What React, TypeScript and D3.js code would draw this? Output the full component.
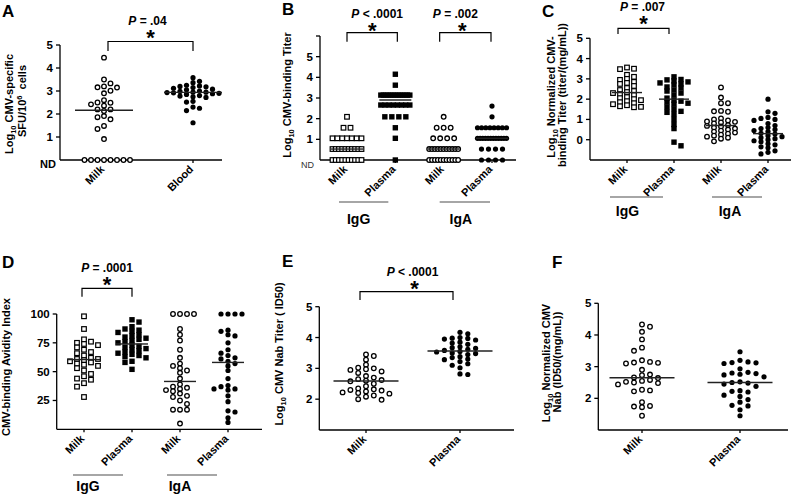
import React from 'react';
import * as d3 from 'd3';

const FONT = "'Liberation Sans', Arial, Helvetica, sans-serif";

// ---------------- Panel A ----------------
const aMilk = [4.45, 3.5, 3.33, 3.2, 3.16, 3.15, 3.01, 2.9, 2.6, 2.5, 2.49, 2.42, 2.36, 2.2, 2.2, 2.13, 1.91, 1.86, 1.77, 1.48, 1.35, 0.91, 0, 0, 0, 0, 0, 0, 0, 0];
const aBlood = [3.58, 3.42, 3.36, 3.25, 3.22, 3.2, 3.18, 3.15, 3.12, 3.08, 3.05, 3.0, 2.98, 2.95, 2.95, 2.93, 2.92, 2.9, 2.88, 2.85, 2.8, 2.78, 2.75, 2.72, 2.55, 2.52, 2.3, 2.25, 2.15, 1.62];
const aTicks = [1, 2, 3, 4, 5];

// ---------------- Panel B ----------------
const bMilkIgG = [2.09, 1.56, 1.56, 1.05, 1.05, 1.05, 1.05, 1.05, 1.05, 1.05, 0.53, 0.53, 0.53, 0.53, 0.53, 0.53, 0.53, 0.53, 0.53, 0.53, 0, 0, 0, 0, 0, 0, 0, 0, 0, 0];
const bPlasmaIgG = [4.15, 3.62, 3.14, 3.14, 3.14, 3.14, 3.14, 3.14, 3.14, 3.14, 3.14, 3.14, 3.14, 3.14, 3.14, 2.66, 2.66, 2.66, 2.66, 2.66, 2.66, 2.66, 2.66, 2.09, 2.09, 2.09, 2.09, 1.56, 1.05, 0];
const bMilkIgA = [2.09, 1.56, 1.56, 1.56, 1.05, 1.05, 1.05, 1.05, 0.53, 0.53, 0.53, 0.53, 0.53, 0.53, 0.53, 0.53, 0.53, 0.53, 0.53, 0, 0, 0, 0, 0, 0, 0, 0, 0, 0, 0];
const bPlasmaIgA = [2.61, 2.09, 1.56, 1.56, 1.56, 1.56, 1.56, 1.56, 1.56, 1.56, 1.05, 1.05, 1.05, 1.05, 1.05, 1.05, 1.05, 1.05, 1.05, 1.05, 1.05, 1.05, 0.53, 0.53, 0.53, 0.53, 0, 0, 0, 0];
const bTicks = [1, 2, 3, 4, 5];
const bMinorTicks = [6];

// ---------------- Panel C ----------------
const cMilkIgG = [3.56, 3.5, 3.48, 3.2, 3.1, 3.0, 2.95, 2.85, 2.8, 2.75, 2.65, 2.55, 2.45, 2.4, 2.35, 2.3, 2.25, 2.2, 2.1, 2.05, 2.0, 1.95, 1.9, 1.85, 1.8, 1.75, 1.7, 1.65, 1.62, 1.6];
const cPlasmaIgG = [3.1, 2.97, 2.95, 2.9, 2.85, 2.8, 2.75, 2.7, 2.6, 2.55, 2.45, 2.4, 2.3, 2.2, 2.05, 1.95, 1.9, 1.85, 1.8, 1.75, 1.6, 1.5, 1.4, 1.35, 1.25, 1.0, 0.75, 0.55, -0.12, -0.3];
const cMilkIgA = [2.58, 2.08, 1.8, 1.8, 1.42, 1.4, 1.38, 1.05, 1.0, 0.95, 0.9, 0.88, 0.85, 0.8, 0.72, 0.68, 0.65, 0.6, 0.55, 0.5, 0.45, 0.4, 0.35, 0.3, 0.25, 0.2, 0.15, 0.1, 0.05, -0.08];
const cPlasmaIgA = [2.0, 1.38, 1.3, 1.1, 1.05, 1.0, 0.95, 0.8, 0.7, 0.6, 0.55, 0.5, 0.45, 0.4, 0.32, 0.28, 0.2, 0.15, 0.1, 0.05, 0.0, -0.05, -0.1, -0.2, -0.25, -0.35, -0.4, -0.55, -0.62, -0.7];
const cTicks = [0, 1, 2, 3, 4, 5];

// ---------------- Panel D ----------------
const dMilkIgG = [98, 87, 78, 76, 75, 74, 73, 71, 69, 67, 66, 64, 62, 61, 61, 60, 59, 58, 57, 56, 55, 53, 51, 48, 46, 44, 43, 40, 37, 28];
const dPlasmaIgG = [95, 93, 89, 87, 86, 85, 84, 82, 81, 80, 79, 78, 77, 76, 75, 73, 72, 71, 70, 69, 68, 67, 66, 65, 64, 63, 62, 59, 58, 52];
const dMilkIgA = [100, 100, 100, 100, 87, 82, 77, 69, 62, 57, 55, 53, 51, 49, 44, 39, 37, 36, 35, 34, 33, 31, 29, 28, 25, 22, 17, 17, 17, 5];
const dPlasmaIgA = [100, 100, 100, 100, 86, 85, 82, 81, 75, 69, 66, 64, 62, 61, 59, 57, 55, 51, 44, 38, 37, 35, 35, 34, 29, 24, 16, 15, 10, 6];
const dTicks = [25, 50, 75, 100];

// ---------------- Panel E ----------------
const eMilk = [3.45, 3.4, 3.28, 3.12, 3.02, 3.0, 2.97, 2.95, 2.9, 2.85, 2.75, 2.7, 2.65, 2.62, 2.6, 2.58, 2.5, 2.42, 2.35, 2.32, 2.3, 2.28, 2.25, 2.22, 2.2, 2.18, 2.12, 2.08, 2.0, 1.98];
const ePlasma = [4.17, 4.12, 4.0, 3.98, 3.97, 3.95, 3.92, 3.85, 3.82, 3.78, 3.7, 3.67, 3.65, 3.62, 3.58, 3.55, 3.53, 3.5, 3.48, 3.45, 3.38, 3.35, 3.3, 3.28, 3.22, 3.15, 3.1, 3.02, 2.82, 2.8];
const eTicks = [2, 3, 4, 5];

// ---------------- Panel F ----------------
const fMilk = [4.33, 4.26, 4.1, 3.86, 3.6, 3.5, 3.2, 3.15, 3.13, 3.12, 3.1, 2.9, 2.75, 2.73, 2.66, 2.64, 2.58, 2.55, 2.52, 2.5, 2.48, 2.44, 2.27, 2.25, 2.22, 1.88, 1.76, 1.74, 1.72, 1.45];
const fPlasma = [3.47, 3.2, 3.15, 3.13, 3.12, 3.1, 2.93, 2.82, 2.8, 2.78, 2.76, 2.74, 2.68, 2.52, 2.5, 2.48, 2.45, 2.38, 2.24, 2.22, 2.2, 2.1, 2.06, 1.96, 1.88, 1.78, 1.76, 1.64, 1.45];
const fTicks = [2, 3, 4, 5];

type Shape = 'circle' | 'square';
interface Series { key: string; label: string; values: number[]; shape: Shape; filled: boolean }

function swarm(values: number[], y: (v: number) => number, step: number, minDY: number): number[] {
  const idx = values.map((_, i) => i).sort((a, b) => values[b] - values[a]);
  const placed: { s: number; py: number }[] = [];
  const out: number[] = new Array(values.length).fill(0);
  const free = (s: number, py: number) => !placed.some(p => p.s === s && Math.abs(p.py - py) < minDY);
  idx.forEach(i => {
    const py = y(values[i]);
    for (let k = 0; k < 40; k++) {
      if (k === 0) {
        if (free(0, py)) { placed.push({ s: 0, py }); out[i] = 0; return; }
        continue;
      }
      const pf = free(k, py), nf = free(-k, py);
      if (pf || nf) {
        let s = k;
        if (pf && nf) {
          const pos = placed.filter(p => p.s > 0).length;
          const neg = placed.filter(p => p.s < 0).length;
          s = pos > neg ? -k : k;
        } else if (nf) s = -k;
        placed.push({ s, py });
        out[i] = s * step;
        return;
      }
    }
  });
  return out;
}

function rows(values: number[], step: number, maxW: number): number[] {
  const out: number[] = new Array(values.length).fill(0);
  const groups = d3.group(values.map((v, i) => ({ v, i })), d => d.v);
  groups.forEach(arr => {
    const n = arr.length;
    const sp = n > 1 ? Math.min(step, maxW / (n - 1)) : 0;
    arr.forEach((d, j) => { out[d.i] = (j - (n - 1) / 2) * sp; });
  });
  return out;
}

interface Bracket { from: string; to: string; dx1: number; dx2: number; top: number; bottom: number; op: string; textY: number; starY: number; textDx: number; starDx: number }
interface Group { label: string; from: string; to: string; dx1: number; dx2: number; lineY: number; textY: number; textDx: number }
interface YLab { x: number; y: number; content: React.ReactNode }

interface Cfg {
  letter: string; letterX: number; letterY: number;
  yDomain: [number, number]; yRange: [number, number];
  axisX: number; axisEnd: number;
  ticks: number[]; minorTicks?: number[];
  nd?: { x: number; y: number; size: number; weight: string; fill: string };
  catRange: [number, number];
  series: Series[];
  layout: 'swarm' | 'rows'; step: number; minDY: number; maxW?: number;
  medHalf: number;
  brackets: Bracket[];
  groups: Group[];
  yLabels: YLab[];
}

const Sub = ({ t }: { t: string }) => <tspan fontSize={7.5} dy={3}>{t}</tspan>;

function Marker({ cx, cy, shape, filled }: { cx: number; cy: number; shape: Shape; filled: boolean }) {
  if (shape === 'circle') {
    return filled
      ? <circle cx={cx} cy={cy} r={2.6} fill="#000" />
      : <circle cx={cx} cy={cy} r={2.3} fill="#fff" stroke="#000" strokeWidth={1.3} />;
  }
  const s = filled ? 5.4 : 4.6;
  return <rect x={cx - s / 2} y={cy - s / 2} width={s} height={s}
    fill={filled ? '#000' : '#fff'} stroke={filled ? 'none' : '#000'} strokeWidth={filled ? 0 : 1.2} />;
}

function Panel({ cfg }: { cfg: Cfg }) {
  const y = d3.scaleLinear().domain(cfg.yDomain).range(cfg.yRange);
  const x = d3.scalePoint<string>().domain(cfg.series.map(s => s.key)).range(cfg.catRange);
  const base = cfg.yRange[0];
  const top = cfg.yRange[1];
  return (
    <g>
      <text x={cfg.letterX} y={cfg.letterY} fontSize={17} fontWeight="bold">{cfg.letter}</text>
      {cfg.yLabels.map((l, i) => (
        <text key={i} transform={`translate(${l.x},${l.y}) rotate(-90)`} textAnchor="middle" fontSize={11} fontWeight="bold">{l.content}</text>
      ))}
      <line x1={cfg.axisX} x2={cfg.axisX} y1={base} y2={top} stroke="#000" strokeWidth={1.3} />
      <line x1={cfg.axisX} x2={cfg.axisEnd} y1={base} y2={base} stroke="#000" strokeWidth={1.3} />
      {cfg.ticks.map(t => (
        <g key={t}>
          <line x1={cfg.axisX - 4} x2={cfg.axisX} y1={y(t)} y2={y(t)} stroke="#000" strokeWidth={1.3} />
          <text x={cfg.axisX - 7} y={y(t) + 4} textAnchor="end" fontSize={11.5} fontWeight="bold">{t}</text>
        </g>
      ))}
      {(cfg.minorTicks || []).map(t => (
        <line key={'m' + t} x1={cfg.axisX - 4} x2={cfg.axisX} y1={y(t)} y2={y(t)} stroke="#000" strokeWidth={1.3} />
      ))}
      {cfg.nd && (
        <text x={cfg.nd.x} y={cfg.nd.y} textAnchor="end" fontSize={cfg.nd.size} fontWeight={cfg.nd.weight} fill={cfg.nd.fill}>ND</text>
      )}
      {cfg.series.map(s => (
        <g key={s.key}>
          <line x1={x(s.key)!} x2={x(s.key)!} y1={base} y2={base + 3} stroke="#000" strokeWidth={1.3} />
          <text transform={`translate(${x(s.key)! + 1},${base + 10}) rotate(-45)`} textAnchor="end" fontSize={11} fontWeight="bold">{s.label}</text>
        </g>
      ))}
      {cfg.series.map(s => {
        const offs = cfg.layout === 'rows' ? rows(s.values, cfg.step, cfg.maxW || 28) : swarm(s.values, y, cfg.step, cfg.minDY);
        const med = d3.median(s.values)!;
        const cx = x(s.key)!;
        return (
          <g key={'p' + s.key}>
            {s.values.map((v, i) => (
              <Marker key={i} cx={cx + offs[i]} cy={y(v)} shape={s.shape} filled={s.filled} />
            ))}
            <line x1={cx - cfg.medHalf} x2={cx + cfg.medHalf} y1={y(med)} y2={y(med)} stroke="#222" strokeWidth={1.4} />
          </g>
        );
      })}
      {cfg.brackets.map((b, i) => {
        const x1 = x(b.from)! + b.dx1, x2 = x(b.to)! + b.dx2;
        const mid = (x1 + x2) / 2;
        return (
          <g key={'b' + i}>
            <path d={`M${x1},${b.bottom}V${b.top}H${x2}V${b.bottom}`} fill="none" stroke="#000" strokeWidth={1.2} />
            <text x={mid + b.textDx} y={b.textY} textAnchor="middle" fontSize={12} fontWeight="bold">
              <tspan fontStyle="italic">P</tspan>{b.op}
            </text>
            <text x={mid + b.starDx} y={b.starY + 12.5} textAnchor="middle" fontSize={22} fontWeight="bold">*</text>
          </g>
        );
      })}
      {cfg.groups.map((g, i) => {
        const x1 = x(g.from)! + g.dx1, x2 = x(g.to)! + g.dx2;
        return (
          <g key={'g' + i}>
            <line x1={x1} x2={x2} y1={g.lineY} y2={g.lineY} stroke="#888" strokeWidth={1.5} />
            <text x={(x1 + x2) / 2 + g.textDx} y={g.textY} textAnchor="middle" fontSize={14} fontWeight="bold">{g.label}</text>
          </g>
        );
      })}
    </g>
  );
}

const cfgA: Cfg = {
  letter: 'A', letterX: 2, letterY: 17,
  yDomain: [0, 5], yRange: [160, 45], axisX: 60, axisEnd: 222,
  ticks: aTicks,
  nd: { x: 56, y: 168, size: 11, weight: 'bold', fill: '#000' },
  catRange: [104, 193],
  series: [
    { key: 'Milk', label: 'Milk', values: aMilk, shape: 'circle', filled: false },
    { key: 'Blood', label: 'Blood', values: aBlood, shape: 'circle', filled: true },
  ],
  layout: 'swarm', step: 6.5, minDY: 4.4, medHalf: 29,
  brackets: [{ from: 'Milk', to: 'Blood', dx1: 4, dx2: 0, top: 41.5, bottom: 51, op: ' = .04', textY: 25, starY: 32, textDx: -3, starDx: 0 }],
  groups: [],
  yLabels: [
    { x: 12.5, y: 104, content: <>Log<Sub t="10" /><tspan dy={-3}> CMV-specific</tspan></> },
    { x: 26, y: 101, content: <>SFU/10<tspan fontSize={7.5} dy={-4}>6</tspan><tspan dy={4}>{'\u00a0 cells'}</tspan></> },
  ],
};

const cfgB: Cfg = {
  letter: 'B', letterX: 282, letterY: 15,
  yDomain: [0, 6], yRange: [160, 36], axisX: 320, axisEnd: 516,
  ticks: bTicks, minorTicks: bMinorTicks,
  nd: { x: 314, y: 168, size: 9, weight: 'normal', fill: '#333' },
  catRange: [347, 492],
  series: [
    { key: 'Milk IgG', label: 'Milk', values: bMilkIgG, shape: 'square', filled: false },
    { key: 'Plasma IgG', label: 'Plasma', values: bPlasmaIgG, shape: 'square', filled: true },
    { key: 'Milk IgA', label: 'Milk', values: bMilkIgA, shape: 'circle', filled: false },
    { key: 'Plasma IgA', label: 'Plasma', values: bPlasmaIgA, shape: 'circle', filled: true },
  ],
  layout: 'rows', step: 7, minDY: 5.6, maxW: 29, medHalf: 16,
  brackets: [
    { from: 'Milk IgG', to: 'Plasma IgG', dx1: 0, dx2: 2, top: 32.7, bottom: 41.7, op: ' < .0001', textY: 18, starY: 25, textDx: 5, starDx: 0 },
    { from: 'Milk IgA', to: 'Plasma IgA', dx1: -4, dx2: -1, top: 32.7, bottom: 41.7, op: ' = .002', textY: 18, starY: 25, textDx: -10, starDx: -3 },
  ],
  groups: [
    { label: 'IgG', from: 'Milk IgG', to: 'Plasma IgG', dx1: -8, dx2: -7, lineY: 202, textY: 224, textDx: -5 },
    { label: 'IgA', from: 'Milk IgA', to: 'Plasma IgA', dx1: -4, dx2: -2, lineY: 202, textY: 224, textDx: -4 },
  ],
  yLabels: [
    { x: 291, y: 95, content: <>Log<Sub t="10" /><tspan dy={-3}> CMV-binding Titer</tspan></> },
  ],
};

const cfgC: Cfg = {
  letter: 'C', letterX: 542, letterY: 17,
  yDomain: [-1, 5], yRange: [160, 38.3], axisX: 590, axisEnd: 791,
  ticks: cTicks,
  catRange: [627, 768],
  series: [
    { key: 'Milk IgG', label: 'Milk', values: cMilkIgG, shape: 'square', filled: false },
    { key: 'Plasma IgG', label: 'Plasma', values: cPlasmaIgG, shape: 'square', filled: true },
    { key: 'Milk IgA', label: 'Milk', values: cMilkIgA, shape: 'circle', filled: false },
    { key: 'Plasma IgA', label: 'Plasma', values: cPlasmaIgA, shape: 'circle', filled: true },
  ],
  layout: 'swarm', step: 7, minDY: 4.0, medHalf: 15,
  brackets: [{ from: 'Milk IgG', to: 'Plasma IgG', dx1: -9, dx2: -5, top: 28.3, bottom: 34, op: ' = .007', textY: 11, starY: 18.5, textDx: -1, starDx: 0 }],
  groups: [
    { label: 'IgG', from: 'Milk IgG', to: 'Plasma IgG', dx1: -17, dx2: -11, lineY: 197, textY: 216, textDx: -9 },
    { label: 'IgA', from: 'Milk IgA', to: 'Plasma IgA', dx1: -9, dx2: -6, lineY: 197, textY: 216, textDx: -7 },
  ],
  yLabels: [
    { x: 554.5, y: 97, content: <>Log<Sub t="10" /><tspan dy={-3}> Normalized CMV-</tspan></> },
    { x: 566, y: 95, content: <>binding Titer (titer/(mg/mL))</> },
  ],
};

const cfgD: Cfg = {
  letter: 'D', letterX: 2, letterY: 268,
  yDomain: [0, 100], yRange: [429.3, 314], axisX: 56.7, axisEnd: 262,
  ticks: dTicks,
  catRange: [84, 228],
  series: [
    { key: 'Milk IgG', label: 'Milk', values: dMilkIgG, shape: 'square', filled: false },
    { key: 'Plasma IgG', label: 'Plasma', values: dPlasmaIgG, shape: 'square', filled: true },
    { key: 'Milk IgA', label: 'Milk', values: dMilkIgA, shape: 'circle', filled: false },
    { key: 'Plasma IgA', label: 'Plasma', values: dPlasmaIgA, shape: 'circle', filled: true },
  ],
  layout: 'swarm', step: 7, minDY: 4.4, medHalf: 16,
  brackets: [{ from: 'Milk IgG', to: 'Plasma IgG', dx1: -2, dx2: 0, top: 288.3, bottom: 296.7, op: ' = .0001', textY: 272, starY: 279, textDx: 0, starDx: 0 }],
  groups: [
    { label: 'IgG', from: 'Milk IgG', to: 'Plasma IgG', dx1: -11, dx2: -9, lineY: 475, textY: 491, textDx: -10 },
    { label: 'IgA', from: 'Milk IgA', to: 'Plasma IgA', dx1: -13, dx2: -11, lineY: 475, textY: 491, textDx: -12 },
  ],
  yLabels: [
    { x: 10, y: 367, content: <>CMV-binding Avidity Index</> },
  ],
};

const cfgE: Cfg = {
  letter: 'E', letterX: 282, letterY: 267,
  yDomain: [1, 5], yRange: [430, 306.7], axisX: 319.3, axisEnd: 514,
  ticks: eTicks,
  catRange: [366, 460],
  series: [
    { key: 'Milk', label: 'Milk', values: eMilk, shape: 'circle', filled: false },
    { key: 'Plasma', label: 'Plasma', values: ePlasma, shape: 'circle', filled: true },
  ],
  layout: 'swarm', step: 7.8, minDY: 4.6, medHalf: 32.5,
  brackets: [{ from: 'Milk', to: 'Plasma', dx1: -6, dx2: -7, top: 291.7, bottom: 300, op: ' < .0001', textY: 276, starY: 283.5, textDx: 6, starDx: 8 }],
  groups: [],
  yLabels: [
    { x: 283, y: 354, content: <>Log<Sub t="10" /><tspan dy={-3}> CMV Nab Titer ( ID50)</tspan></> },
  ],
};

const cfgF: Cfg = {
  letter: 'F', letterX: 552, letterY: 268,
  yDomain: [1, 5], yRange: [430, 303.3], axisX: 598.3, axisEnd: 788,
  ticks: fTicks,
  catRange: [642, 740],
  series: [
    { key: 'Milk', label: 'Milk', values: fMilk, shape: 'circle', filled: false },
    { key: 'Plasma', label: 'Plasma', values: fPlasma, shape: 'circle', filled: true },
  ],
  layout: 'swarm', step: 8, minDY: 5.0, medHalf: 32.5,
  brackets: [],
  groups: [],
  yLabels: [
    { x: 550, y: 363, content: <>Log<Sub t="10" /><tspan dy={-3}> Normalized CMV</tspan></> },
    { x: 561, y: 362, content: <>Nab (ID50/(mg/mL))</> },
  ],
};

export default function App() {
  return (
    <svg width={797} height={498} viewBox="0 0 797 498"
      style={{ position: 'absolute', left: 0, top: 0, background: '#fff' }}
      fontFamily={FONT}>
      <rect width={797} height={498} fill="#fff" />
      <Panel cfg={cfgA} />
      <Panel cfg={cfgB} />
      <Panel cfg={cfgC} />
      <Panel cfg={cfgD} />
      <Panel cfg={cfgE} />
      <Panel cfg={cfgF} />
    </svg>
  );
}
